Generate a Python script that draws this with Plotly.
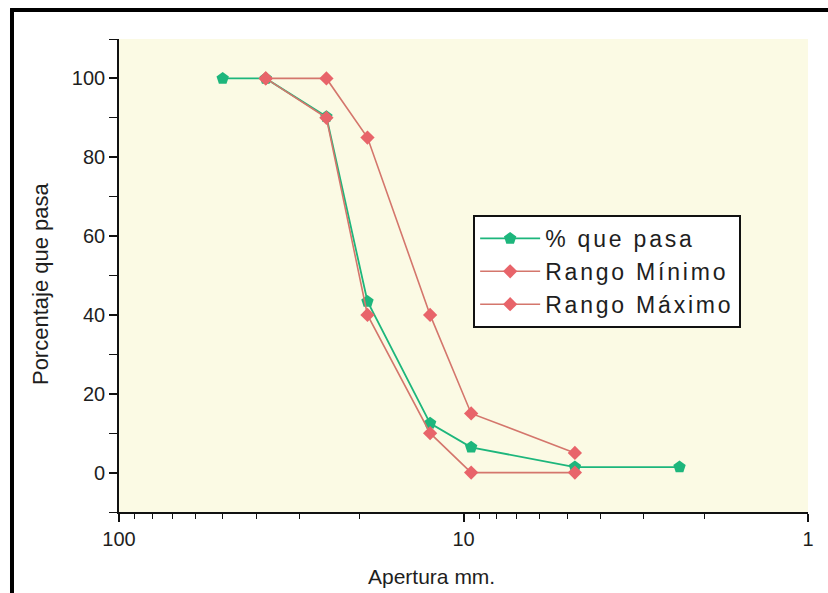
import plotly.graph_objects as go

# Sieve openings (mm) and percent passing
apertura_pasa = [50, 37.5, 25, 19, 12.5, 9.5, 4.75, 2.36]
pasa = [100, 100, 90.3, 43.4, 12.5, 6.4, 1.4, 1.4]

# Gradation band limits
apertura_rango = [37.5, 25, 19, 12.5, 9.5, 4.75]
rango_min = [100, 90, 40, 10, 0, 0]
rango_max = [100, 100, 85, 40, 15, 5]

x_major = [100, 10, 1]
x_minor = [90, 80, 70, 60, 50, 40, 30, 20, 9, 8, 7, 6, 5, 4, 3, 2]
y_major = [0, 20, 40, 60, 80, 100]

GREEN = "#1DB67C"
RED_MK = "#E8646A"
RED_LN = "#D4766C"
TXT = "#1e1e1e"


def spaced(label):
    # widen the legend lettering a little
    return f'<span style="letter-spacing:2.8px">{label}</span>'


fig = go.Figure()
fig.add_trace(go.Scatter(
    x=apertura_pasa, y=pasa, name=spaced("% que pasa"), mode="lines+markers",
    line=dict(color=GREEN, width=1.8),
    marker=dict(symbol="pentagon", size=13, color=GREEN),
))
fig.add_trace(go.Scatter(
    x=apertura_rango, y=rango_min, name=spaced("Rango Mínimo"), mode="lines+markers",
    line=dict(color=RED_LN, width=1.6),
    marker=dict(symbol="diamond", size=11, color=RED_MK),
))
fig.add_trace(go.Scatter(
    x=apertura_rango, y=rango_max, name=spaced("Rango Máximo"), mode="lines+markers",
    line=dict(color=RED_LN, width=1.6),
    marker=dict(symbol="diamond", size=11, color=RED_MK),
))

fig.update_xaxes(
    type="log", range=[2, 0], showgrid=False, zeroline=False,
    showline=True, linecolor="#111", linewidth=1.6,
    tickmode="array", tickvals=x_major, ticktext=[str(v) for v in x_major],
    ticks="outside", ticklen=8, tickwidth=1.6, tickcolor="#111",
    tickfont=dict(family="Liberation Sans, Arial", size=20, color=TXT),
    minor=dict(tickmode="array", tickvals=x_minor, ticks="outside",
               ticklen=5, tickwidth=1.4, tickcolor="#111"),
)
fig.update_yaxes(
    range=[-10, 110], showgrid=False, zeroline=False,
    showline=True, linecolor="#111", linewidth=1.6,
    tickmode="array", tickvals=y_major,
    ticks="outside", ticklen=8, tickwidth=1.6, tickcolor="#111",
    tickfont=dict(family="Liberation Sans, Arial", size=20, color=TXT),
    minor=dict(dtick=10, tick0=-10, ticks="outside", ticklen=8,
               tickwidth=1.4, tickcolor="#111"),
)

# Axis titles
fig.add_annotation(text="Apertura mm.", xref="paper", yref="paper",
                   x=0.454, y=-0.137, xanchor="center", yanchor="middle",
                   showarrow=False,
                   font=dict(family="Liberation Sans, Arial", size=21, color=TXT))
fig.add_annotation(text="Porcentaje que pasa", xref="paper", yref="paper",
                   x=-0.1147, y=0.484, xanchor="center", yanchor="middle",
                   textangle=-90, showarrow=False,
                   font=dict(family="Liberation Sans, Arial", size=22, color=TXT))

# Frame around the figure (top and left edges)
fig.add_shape(type="line", xref="paper", yref="paper",
              x0=-0.158, x1=1.05, y0=1.0613, y1=1.0613,
              line=dict(color="black", width=4))
fig.add_shape(type="line", xref="paper", yref="paper",
              x0=-0.1553, x1=-0.1553, y0=1.065, y1=-0.2,
              line=dict(color="black", width=4))

fig.update_layout(
    width=828, height=593,
    margin=dict(l=119, r=20, t=39, b=81),
    paper_bgcolor="white", plot_bgcolor="#FBFAE4",
    showlegend=True,
    legend=dict(x=0.514, y=0.628, xanchor="left", yanchor="top",
                bgcolor="white", bordercolor="#111", borderwidth=2,
                font=dict(family="Liberation Sans, Arial", size=23, color=TXT),
                itemwidth=60, tracegroupgap=0),
)

fig.write_html("out.html")
